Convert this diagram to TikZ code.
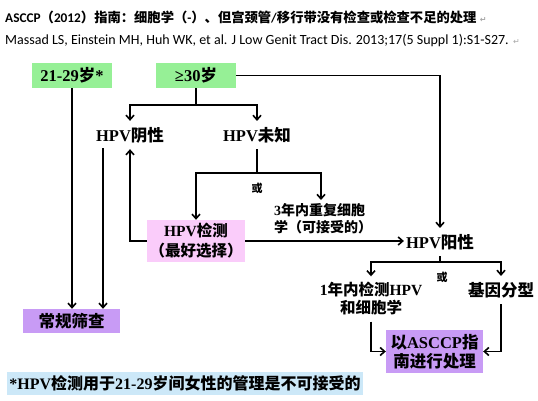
\documentclass[tikz,border=0pt]{standalone}
\usepackage{fontspec}
\setmainfont{Liberation Serif}
\newfontfamily\cjk{Noto Sans CJK SC}
\newfontfamily\calfont{Carlito}
\newfontfamily\dvfont{DejaVu Sans}
\usetikzlibrary{arrows.meta,calc}
\definecolor{boxgreen}{RGB}{150,240,150}
\definecolor{boxpink}{RGB}{250,204,250}
\definecolor{boxpurple}{RGB}{200,155,245}
\definecolor{boxblue}{RGB}{204,232,248}
\newcommand\zh[1]{{\cjk #1}}
\newcommand\pmark{{\dvfont\fontsize{8}{8}\selectfont\color{gray!70}↵}}
\begin{document}
\begin{tikzpicture}[x=1pt,y=-1pt,
  conn/.style={line width=1.6pt},
  arr/.style={conn,-{Straight Barb[length=4.5pt,width=8pt]}},
  big/.style={font=\bfseries\fontsize{16.5}{19}\selectfont},
  mid/.style={font=\bfseries\fontsize{14}{17}\selectfont},
  lbl/.style={big,align=center,inner xsep=2pt,inner ysep=6pt},
  gbox/.style={big,fill=boxgreen,minimum width=80pt,minimum height=25pt,inner sep=0pt},
  pbox/.style={font=\bfseries\fontsize{15.5}{20}\selectfont,fill=boxpink,minimum width=98pt,minimum height=42pt,inner sep=0pt,align=center},
  ubox/.style={big,fill=boxpurple,minimum width=97pt,minimum height=24pt,inner sep=0pt,align=center},
  bbox/.style={font=\bfseries\fontsize{16}{18}\selectfont,fill=boxblue,minimum width=356pt,minimum height=23pt,inner sep=0pt},
  ortxt/.style={font=\bfseries\fontsize{11}{12}\selectfont,inner sep=0pt}
]
\path[use as bounding box] (0,0) rectangle (538,400);

% header
\node[anchor=west,inner sep=0pt,font=\bfseries\fontsize{13.3}{15}\selectfont] (t1) at (5,17)
  {{\calfont ASCCP}\zh{（}{\calfont 2012}\zh{）指南：细胞学（}{\calfont -}\zh{）、但宫颈管}{\calfont /}\zh{移行带没有检查或检查不足的处理}\ \pmark};
\node[anchor=west,inner sep=0pt,font=\calfont\fontsize{14}{16}\selectfont] (t2) at (5,41)
  {Massad LS, Einstein MH, Huh WK, et al. J Low Genit Tract Dis. 2013;17(5 Suppl 1):S1-S27. \pmark};

% nodes
\node[gbox] (age1) at (72,75.5) {21-29\zh{岁}*};
\node[gbox] (age2) at (196,75.5) {≥30\zh{岁}};
\node[lbl] (neg) at (130,135) {HPV\zh{阴性}};
\node[lbl] (unk) at (257,135) {HPV\zh{未知}};
\node[pbox] (test) at (196,241) {HPV\zh{检测}\\\zh{（最好选择）}};
\node[mid,anchor=north west,align=left,inner sep=0pt] (rep) at (274,203) {3\zh{年内重复细胞}\\\zh{学（可接受的）}};
\coordinate (repin) at (321,200);
\node[lbl] (pos) at (440,242) {HPV\zh{阳性}};
\node[lbl,font=\bfseries\fontsize{15.5}{18}\selectfont] (oneyr) at (371,299) {1\zh{年内检测}HPV\\\zh{和细胞学}};
\node[lbl] (geno) at (501,290) {\zh{基因分型}};
\node[ubox] (routine) at (71.5,321) {\zh{常规筛查}};
\node[ubox,minimum height=43pt] (asccp) at (434.5,351.5) {\zh{以}ASCCP\zh{指}\\\zh{南进行处理}};
\node[bbox] (note) at (185,383.5) {*HPV\zh{检测用于}21-29\zh{岁间女性的管理是不可接受的}};
\node[ortxt] (or1) at (257,188) {\zh{或}};
\node[ortxt] (or2) at (442,277) {\zh{或}};

% helper coordinates
\coordinate (s1) at (196,105);
\coordinate (s2) at (257,173);
\coordinate (s3) at (440,262);
\coordinate (negl) at (103,148);

% connectors
\draw[arr] (age2.east) -| (pos.north);
\draw[arr] (age2.south) -- (s1) -| (neg.north);
\draw[arr] (s1) -| (unk.north);
\draw[arr] (unk.south) -- (s2) -| (test.north);
\draw[arr] (s2) -| (repin);
\draw[arr] (test.west) -| (neg.south);
\draw[arr] (test.east) -- (test.east -| pos.west);
\draw[arr] (age1.south) -- (routine.north -| age1.south);
\draw[arr] (negl) -- (routine.north -| negl);
\draw[arr] (pos.south) -- (s3) -| (oneyr.north);
\draw[arr] (s3) -| (geno.north);
\draw[arr] (oneyr.south) |- (asccp.west);
\draw[arr] (geno.south) |- (asccp.east);
\end{tikzpicture}
\end{document}
